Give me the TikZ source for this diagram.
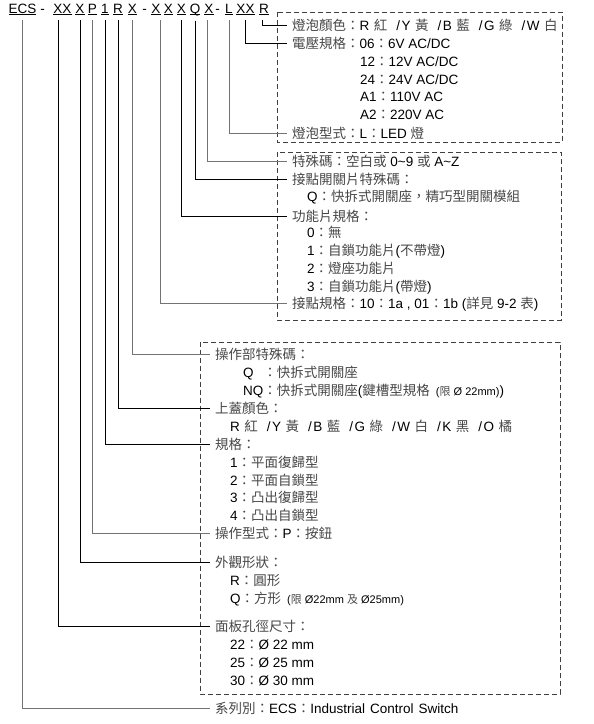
\documentclass[tikz,border=0pt]{standalone}
\usepackage{fontspec}
\setmainfont{Liberation Sans}
\newfontfamily\cjk[Scale=1.0]{Noto Sans CJK TC}
\newcommand{\zh}[1]{{\cjk\color{black!72}#1}}
\newcommand{\smalltxt}[1]{{\fontsize{11}{13}\selectfont #1}}
\newcommand{\ul}[1]{\setbox0\hbox{#1}\rlap{\raisebox{-2pt}{\rule{\wd0}{0.9pt}}}\box0}
% colour letter + CJK name, and the slash between two of them
\newcommand{\lc}[2]{#1\hspace{4.5pt}\zh{#2}}
\newcommand{\sls}{\hspace{9pt}/\hspace{1.5pt}}

\begin{document}
\begin{tikzpicture}[x=1pt, y=-1pt,
  code/.style={anchor=base, inner sep=0pt, outer sep=5pt, font=\fontsize{13.5}{16}\selectfont},
  row/.style={anchor=west, inner xsep=5pt, inner ysep=0pt, text height=10pt, text depth=0pt, font=\fontsize{13.5}{15}\selectfont},
  sub/.style={row, inner xsep=0pt},
  lead/.style={line width=0.8pt, black},
  leadg/.style={line width=0.9pt, black!55},
  box/.style={dash pattern=on 5pt off 3pt, line width=0.9pt, black!75}]
  \useasboundingbox (0,0) rectangle (594,724);

  % Ordering code: ECS-XXXP1RX-XXXQX-LXXR
  \node[code] (c-ecs) at (22.5,13) {\ul{ECS}};
  \node[code] (d1)    at (42.5,13) {-};
  \node[code] (c-xx1) at (62.5,13) {\ul{XX}};
  \node[code] (c-x1)  at (80,13)   {\ul{X}};
  \node[code] (c-p)   at (92.5,13) {\ul{P}};
  \node[code] (c-one) at (105,13)  {\ul{1}};
  \node[code] (c-r)   at (118,13)  {\ul{R}};
  \node[code] (c-x2)  at (132.5,13){\ul{X}};
  \node[code] (d2)    at (144.5,13){-};
  \node[code] (c-x3)  at (156,13)  {\ul{X}};
  \node[code] (c-x4)  at (168.5,13){\ul{X}};
  \node[code] (c-x5)  at (181.5,13){\ul{X}};
  \node[code] (c-q)   at (195,13)  {\ul{Q}};
  \node[code] (c-x6)  at (209,13)  {\ul{X}};
  \node[code] (d3)    at (217.5,13){-};
  \node[code] (c-l)   at (229,13)  {\ul{L}};
  \node[code] (c-xx2) at (245.5,13){\ul{XX}};
  \node[code] (c-r2)  at (264,13)  {\ul{R}};

  % Lamp block
  \draw[box] (277,12) rectangle (562,142);
  \node[row] (r-color) at (287,25) {\zh{燈泡顏色：}\lc{R}{紅}\sls\lc{Y}{黃}\sls\lc{B}{藍}\sls\lc{G}{綠}\sls\lc{W}{白}};
  \node[row] (r-volt) at (287,43) {\zh{電壓規格：}06\zh{：}6V AC/DC};
  \node[sub] (v12) at (360,61) {12\zh{：}12V AC/DC};
  \node[sub] (v24) at (360,79) {24\zh{：}24V AC/DC};
  \node[sub] (va1) at (360,96) {A1\zh{：}110V AC};
  \node[sub] (va2) at (360,114) {A2\zh{：}220V AC};
  \node[row] (r-lamp) at (287,133) {\zh{燈泡型式：}L\zh{：}LED \zh{燈}};

  % Contact block
  \draw[box] (277,152) rectangle (561,320);
  \node[row] (r-spec) at (287,161) {\zh{特殊碼：空白或} 0\textasciitilde 9 \zh{或} A\textasciitilde Z};
  \node[row] (r-cq) at (287,179) {\zh{接點開關片特殊碼：}};
  \node[sub] (cq) at (307,196) {Q\zh{：快拆式開關座，精巧型開關模組}};
  \node[row] (r-func) at (287,216) {\zh{功能片規格：}};
  \node[sub] (f0) at (307,232) {0\zh{：無}};
  \node[sub] (f1) at (307,250) {1\zh{：自鎖功能片}(\zh{不帶燈})};
  \node[sub] (f2) at (307,268) {2\zh{：燈座功能片}};
  \node[sub] (f3) at (307,286) {3\zh{：自鎖功能片}(\zh{帶燈})};
  \node[row] (r-contact) at (287,303) {\zh{接點規格：}10\zh{：}1a , 01\zh{：}1b (\zh{詳見} 9-2 \zh{表})};

  % Operator block
  \draw[box] (200,342) rectangle (560,694);
  \node[row] (r-opq) at (210,354) {\zh{操作部特殊碼：}};
  \node[sub] (oq) at (243,372) {\rlap{Q}\phantom{NQ}\zh{：快拆式開關座}};
  \node[sub] (onq) at (243,390) {NQ\zh{：快拆式開關座}(\zh{鍵槽型規格}\hspace{6pt}\smalltxt{(\zh{限} Ø 22mm)})};
  \node[row] (r-cap) at (210,408) {\zh{上蓋顏色：}};
  \node[sub] (capc) at (230,426) {\lc{R}{紅}\sls\lc{Y}{黃}\sls\lc{B}{藍}\sls\lc{G}{綠}\sls\lc{W}{白}\sls\lc{K}{黑}\sls\lc{O}{橘}};
  \node[row] (r-type) at (210,444) {\zh{規格：}};
  \node[sub] (t1) at (230,462) {1\zh{：平面復歸型}};
  \node[sub] (t2) at (230,480) {2\zh{：平面自鎖型}};
  \node[sub] (t3) at (230,497) {3\zh{：凸出復歸型}};
  \node[sub] (t4) at (230,515) {4\zh{：凸出自鎖型}};
  \node[row] (r-op) at (210,533) {\zh{操作型式：}P\zh{：按鈕}};
  \node[row] (r-shape) at (210,562) {\zh{外觀形狀：}};
  \node[sub] (sr) at (230,580) {R\zh{：圓形}};
  \node[sub] (sq) at (230,598) {Q\zh{：方形}\hspace{6pt}\smalltxt{(\zh{限} Ø22mm \zh{及} Ø25mm)}};
  \node[row] (r-hole) at (210,626) {\zh{面板孔徑尺寸：}};
  \node[sub] (h22) at (230,644) {22\zh{：}Ø 22 mm};
  \node[sub] (h25) at (230,662) {25\zh{：}Ø 25 mm};
  \node[sub] (h30) at (230,680) {30\zh{：}Ø 30 mm};
  \node[row] (r-series) at (210,708) {\zh{系列別：}ECS\zh{：}Industrial\hspace{5pt}Control\hspace{5pt}Switch};

  % Leaders
  \draw[lead]  ([xshift=-2pt]c-r2.south) |- (r-color.west);
  \draw[lead]  (c-xx2.south) |- (r-volt.west);
  \draw[leadg] (c-l.south) |- (r-lamp.west);
  \draw[leadg] ([xshift=-2pt]c-x6.south) |- (r-spec.west);
  \draw[lead]  (c-q.south) |- (r-cq.west);
  \draw[lead]  (c-x5.south) |- (r-func.west);
  \draw[leadg] ([xshift=4pt]c-x3.south) |- (r-contact.west);
  \draw[leadg] (c-x2.south) |- (r-opq.west);
  \draw[lead]  (c-r.south) |- (r-cap.west);
  \draw[lead]  (c-one.south) |- (r-type.west);
  \draw[leadg] (c-p.south) |- (r-op.west);
  \draw[lead]  (c-x1.south) |- (r-shape.west);
  \draw[lead]  ([xshift=-4.5pt]c-xx1.south) |- (r-hole.west);
  \draw[leadg] (c-ecs.south) |- (r-series.west);
\end{tikzpicture}
\end{document}
